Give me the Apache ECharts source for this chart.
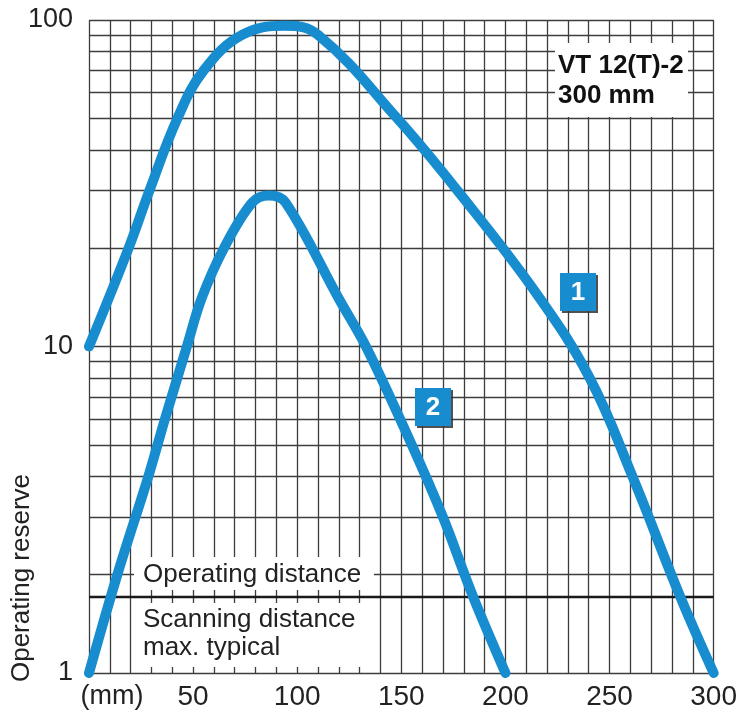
<!DOCTYPE html>
<html>
<head>
<meta charset="utf-8">
<script src="https://cdn.jsdelivr.net/npm/echarts/dist/echarts.min.js"></script>
<style>
html,body{margin:0;padding:0;background:#fff;}
#chart{width:740px;height:719px;}
</style>
</head>
<body>
<div id="chart"></div>
<script>
// ---- data ----
const xMin = 0, xMax = 300, xStep = 10;
const xLabelValues = [0, 50, 100, 150, 200, 250, 300];
const xLabelTexts = ['(mm)', '50', '100', '150', '200', '250', '300'];
const yMin = 1, yMax = 100;
const yMinorLines = [2, 3, 4, 5, 6, 7, 8, 9, 20, 30, 40, 50, 60, 70, 80, 90];
const operatingDistanceLevel = 1.71;

const curve1X = [0, 19, 29, 42.5, 55, 73.5, 94, 110, 148, 177, 215, 240.5, 261, 284, 300];
const curve1Y = [10, 20, 30, 50, 70, 90, 96, 90, 50, 30, 14.5, 8, 4, 1.71, 1];
const curve2X = [0, 13.6, 28.5, 36.5, 47, 54, 64.8, 78.4, 86.4, 94.4, 120, 133, 155, 170, 184.5, 200];
const curve2Y = [1, 2, 4, 6, 10, 14, 20, 27.6, 29, 27.6, 14, 10, 5, 3, 1.71, 1];

const curveLabels = ['1', '2'];
const titleLines = ['VT 12(T)-2', '300 mm'];
const yAxisName = 'Operating reserve';
const opText = 'Operating distance';
const scanText = ['Scanning distance', 'max. typical'];

// ---- chart ----
const FONT = 'Liberation Sans';
const BLUE = '#178dd0';
const GRID = '#3d3d3d';
const TXT = '#222';
const chart = echarts.init(document.getElementById('chart'));

const zip = (xs, ys) => xs.map((x, i) => [x, ys[i]]);

const option = {
  animation: false,
  backgroundColor: '#fff',
  grid: { left: 89, right: 26, top: 20, bottom: 46, containLabel: false },
  xAxis: {
    type: 'value', min: xMin, max: xMax, interval: xStep,
    axisLine: { show: false }, axisTick: { show: false },
    splitLine: { show: true, lineStyle: { color: GRID, width: 1.3 } },
    axisLabel: {
      margin: 10, color: TXT, fontFamily: FONT, fontSize: 28,
      showMinLabel: true, showMaxLabel: true,
      formatter: v => {
        const i = xLabelValues.indexOf(v);
        if (i < 0) return '';
        return v === 0 ? '{mm|' + xLabelTexts[i] + '}' : xLabelTexts[i];
      },
      rich: { mm: { padding: [0, 0, 0, 46], fontSize: 27, fontFamily: FONT, color: TXT } }
    }
  },
  yAxis: {
    type: 'log', logBase: 10, min: yMin, max: yMax,
    axisLine: { show: false }, axisTick: { show: false },
    splitLine: { show: true, lineStyle: { color: GRID, width: 1.3 } },
    axisLabel: { margin: 16, color: TXT, fontFamily: FONT, fontSize: 27 }
  },
  series: [
    {
      type: 'line', name: 'grid', data: [], silent: true,
      markLine: {
        silent: true, symbol: 'none', animation: false,
        label: { show: false },
        lineStyle: { color: GRID, width: 1.3, type: 'solid' },
        data: yMinorLines.map(v => ({ yAxis: v }))
          .concat([{ yAxis: operatingDistanceLevel, lineStyle: { color: '#1a1a1a', width: 2.4 } }])
      }
    },
    {
      type: 'line', name: '1', data: zip(curve1X, curve1Y), smooth: 0.4,
      showSymbol: false, lineStyle: { color: BLUE, width: 10, cap: 'round', join: 'round' }, z: 5
    },
    {
      type: 'line', name: '2', data: zip(curve2X, curve2Y), smooth: 0.35,
      showSymbol: false, lineStyle: { color: BLUE, width: 10, cap: 'round', join: 'round' }, z: 5
    }
  ],
  graphic: [
    { type: 'rect', z: 100, shape: { x: 555, y: 43, width: 133, height: 74 }, style: { fill: '#fff' } },
    { type: 'text', z: 101, x: 558, y: 66, style: { text: titleLines[0], font: 'bold 26px ' + FONT, fill: '#111', verticalAlign: 'middle' } },
    { type: 'text', z: 101, x: 558, y: 96, style: { text: titleLines[1], font: 'bold 26px ' + FONT, fill: '#111', verticalAlign: 'middle' } },
    { type: 'rect', z: 100, shape: { x: 134, y: 557, width: 240, height: 33 }, style: { fill: '#fff' } },
    { type: 'text', z: 101, x: 143, y: 575, style: { text: opText, font: '26px ' + FONT, fill: TXT, verticalAlign: 'middle' } },
    { type: 'rect', z: 100, shape: { x: 136, y: 603, width: 239, height: 64 }, style: { fill: '#fff' } },
    { type: 'text', z: 101, x: 143, y: 620, style: { text: scanText[0], font: '26px ' + FONT, fill: TXT, verticalAlign: 'middle' } },
    { type: 'text', z: 101, x: 143, y: 648, style: { text: scanText[1], font: '26px ' + FONT, fill: TXT, verticalAlign: 'middle' } },
    { type: 'text', z: 101, x: 22, y: 578, rotation: Math.PI / 2, style: { text: yAxisName, font: '26px ' + FONT, fill: TXT, align: 'center', verticalAlign: 'middle' } },
    { type: 'rect', z: 100, shape: { x: 560, y: 273, width: 36, height: 38 }, style: { fill: BLUE, shadowColor: 'rgba(50,50,50,0.85)', shadowOffsetX: 2, shadowOffsetY: 2 } },
    { type: 'text', z: 101, x: 578, y: 293, style: { text: curveLabels[0], font: 'bold 26px ' + FONT, fill: '#fff', align: 'center', verticalAlign: 'middle' } },
    { type: 'rect', z: 100, shape: { x: 415, y: 388, width: 36, height: 38 }, style: { fill: BLUE, shadowColor: 'rgba(50,50,50,0.85)', shadowOffsetX: 2, shadowOffsetY: 2 } },
    { type: 'text', z: 101, x: 433, y: 408, style: { text: curveLabels[1], font: 'bold 26px ' + FONT, fill: '#fff', align: 'center', verticalAlign: 'middle' } }
  ]
};
chart.setOption(option);
</script>
</body>
</html>
